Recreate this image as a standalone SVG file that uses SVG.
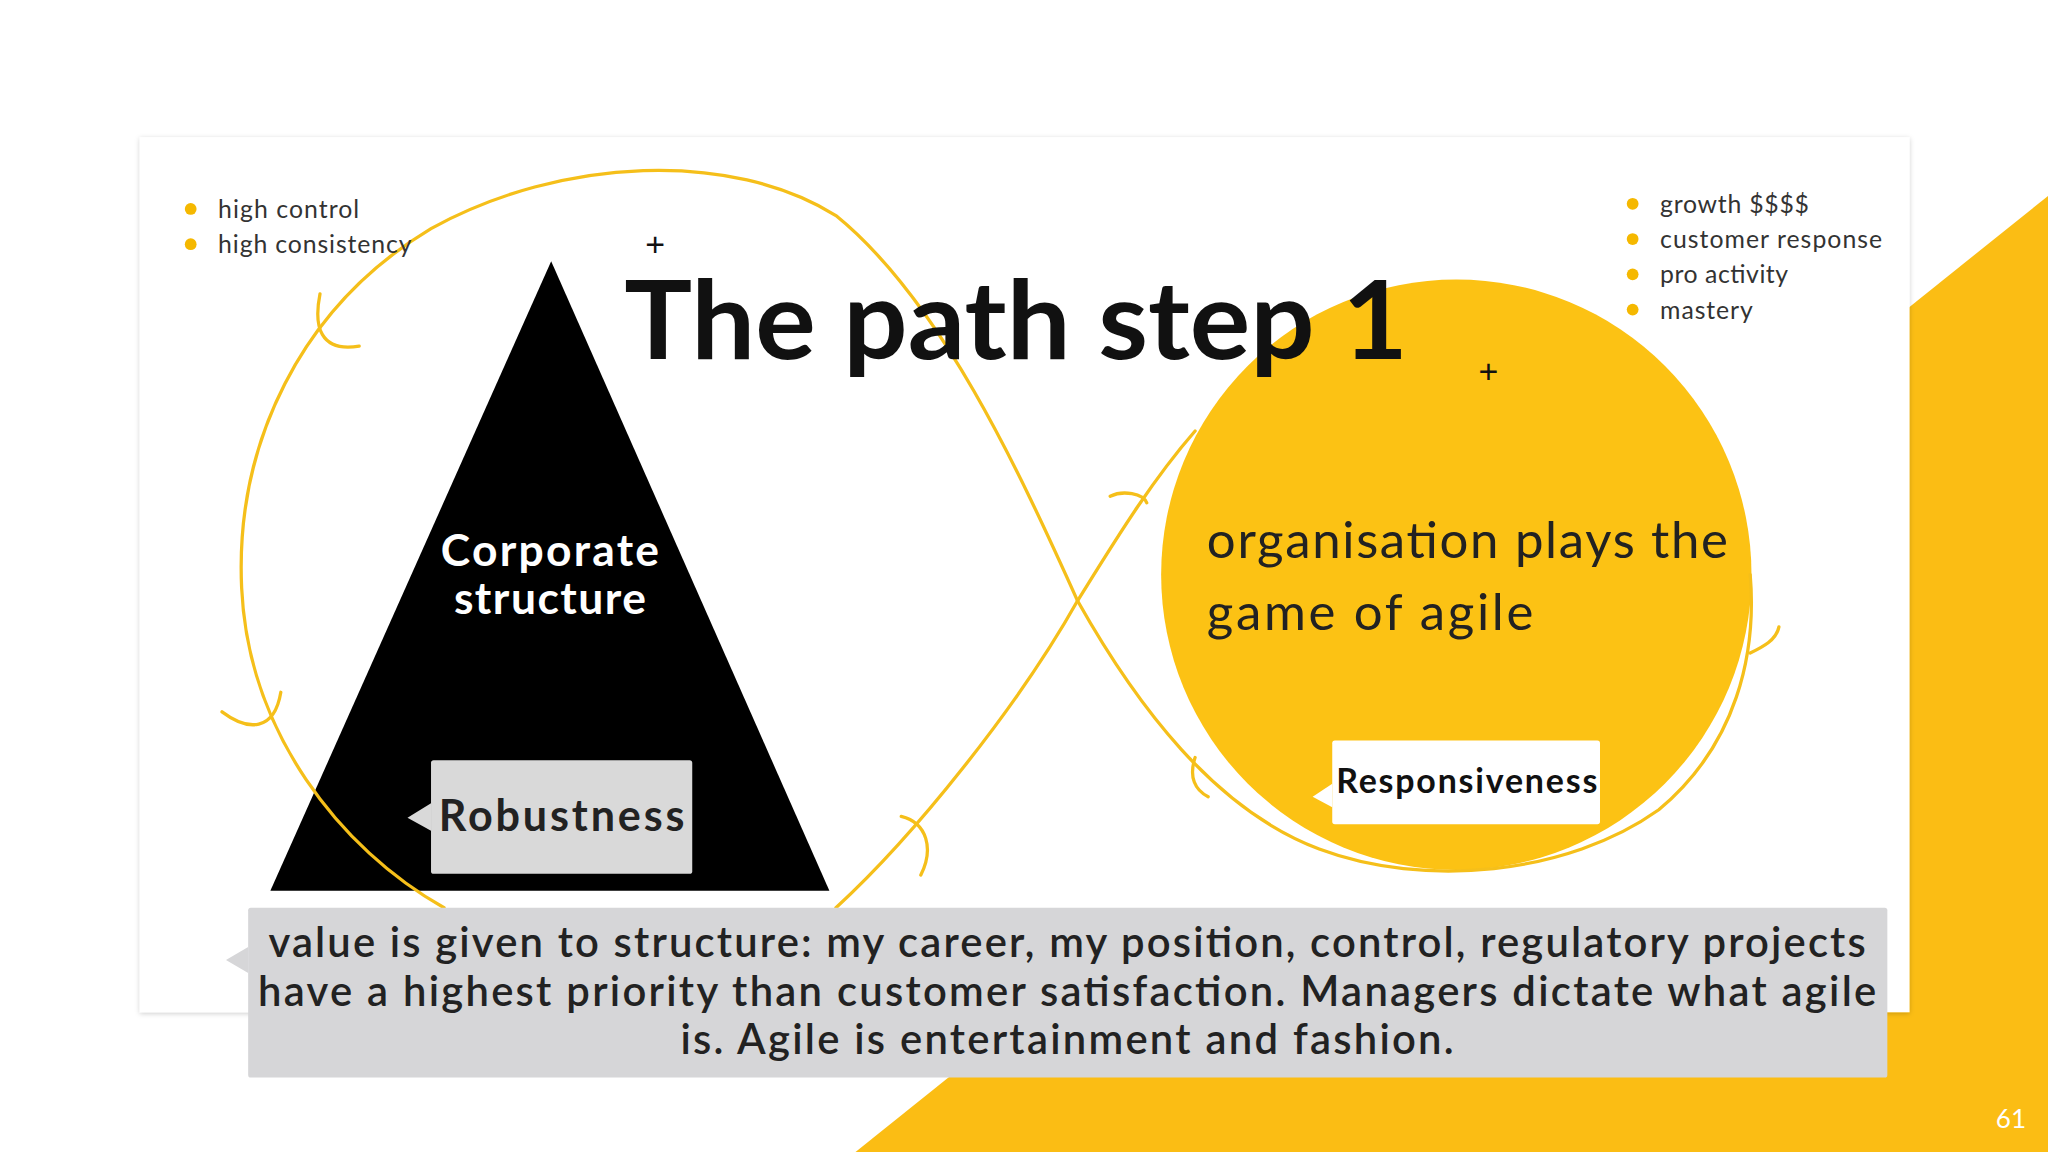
<svg xmlns="http://www.w3.org/2000/svg" width="2048" height="1152" viewBox="0 0 2048 1152">
<defs>
<style>
.t{font-family:"Lato","Open Sans","Liberation Sans",sans-serif}
.b{font-weight:700}
.bul{font-family:"Lato","Open Sans",sans-serif;font-size:19px;fill:#333}
.dot{fill:#f5b800}
.loop{fill:none;stroke:#f5bf1a;stroke-width:2.5;stroke-linecap:round}
</style>
<filter id="sh" x="-5%" y="-5%" width="110%" height="110%"><feDropShadow dx="0" dy="1" stdDeviation="2" flood-opacity="0.2"/></filter>
</defs>
<rect width="2048" height="1152" fill="#fff"/>
<g transform="scale(1.30612)">
<polygon points="655,882 1568,150 1568,882" fill="#fbbd14"/>
<rect x="107" y="105" width="1355" height="670" fill="#fff" filter="url(#sh)"/>
<g id="circle"><circle cx="1115" cy="440" r="226" fill="#fcc214"/></g>
<g id="triangle"><polygon points="422,200 207,682 635,682" fill="#000"/></g>
<g id="connectors">
<path class="loop" d="M825,460 C780,360 720,230 640,165 C560,115 430,120 330,175 C230,235 180,340 185,450 C190,560 260,650 340,695"/>
<path class="loop" d="M825,460 C780,540 700,640 640,695"/>
<path class="loop" d="M825,460 C850,420 880,370 915,330"/>
<path class="loop" d="M825,460 C870,540 930,620 1010,650 C1090,680 1200,670 1270,620 C1330,570 1345,500 1340,440"/>
<path class="loop" d="M245,225 C240,250 245,270 275,265 M170,545 C190,560 210,560 215,530 M690,625 C710,630 715,650 705,670 M850,380 C860,375 875,378 878,385 M915,580 C910,595 915,605 925,610 M1340,500 C1350,495 1360,490 1362,480"/>
</g>
<g id="title"><text class="t b" x="478" y="275" font-size="84" fill="#111" textLength="600" lengthAdjust="spacingAndGlyphs">The path step 1</text></g>
<g id="plus" font-family="Liberation Sans,sans-serif" font-size="26" fill="#111"><text x="494" y="196">+</text><text x="1132" y="293">+</text></g>
<g id="bullets-left">
<circle class="dot" cx="146" cy="160" r="4.5"/><circle class="dot" cx="146" cy="187" r="4.5"/>
<text class="bul" x="167" y="167" textLength="108">high control</text><text class="bul" x="167" y="194" textLength="148">high consistency</text>
</g>
<g id="bullets-right">
<circle class="dot" cx="1250" cy="156" r="4.5"/><circle class="dot" cx="1250" cy="183" r="4.5"/><circle class="dot" cx="1250" cy="210" r="4.5"/><circle class="dot" cx="1250" cy="237" r="4.5"/>
<text class="bul" x="1271" y="163" textLength="114">growth $$$$</text><text class="bul" x="1271" y="190" textLength="170">customer response</text><text class="bul" x="1271" y="217" textLength="98">pro activity</text><text class="bul" x="1271" y="244" textLength="71">mastery</text>
</g>
<g id="corporate"><text class="t b" x="421" y="433" font-size="34" fill="#fff" text-anchor="middle" textLength="167">Corporate</text><text class="t b" x="421" y="470" font-size="34" fill="#fff" text-anchor="middle" textLength="147">structure</text></g>
<g id="organisation"><text class="t" x="924" y="427" font-size="39" fill="#222" textLength="399">organisation plays the</text><text class="t" x="924" y="482" font-size="39" fill="#222" textLength="250">game of agile</text></g>
<g id="robustness"><rect x="330" y="582" width="200" height="87" fill="#d9d9d9" rx="2"/><polygon points="330,615 312,626 330,636" fill="#d9d9d9"/><text class="t b" x="430" y="636" font-size="33" fill="#222" text-anchor="middle" textLength="188">Robustness</text></g>
<g id="responsiveness"><rect x="1020" y="567" width="205" height="64" fill="#fff" rx="2"/><polygon points="1020,600 1005,610 1020,618" fill="#fff"/><text class="t b" x="1123" y="607" font-size="26" fill="#111" text-anchor="middle" textLength="200">Responsiveness</text></g>
<g id="caption"><rect x="190" y="695" width="1255" height="130" fill="#d6d6d8" rx="2"/><polygon points="190,725 173,735 190,745" fill="#d6d6d8"/>
<g class="t" font-size="32" font-weight="600" fill="#222" text-anchor="middle"><text x="817" y="733" textLength="1223">value is given to structure: my career, my position, control, regulatory projects</text><text x="817" y="770" textLength="1239">have a highest priority than customer satisfaction. Managers dictate what agile</text><text x="817" y="807" textLength="592">is. Agile is entertainment and fashion.</text></g></g>
<text class="t" x="1528" y="864" font-size="20" fill="#fff">61</text>
</g>
</svg>
